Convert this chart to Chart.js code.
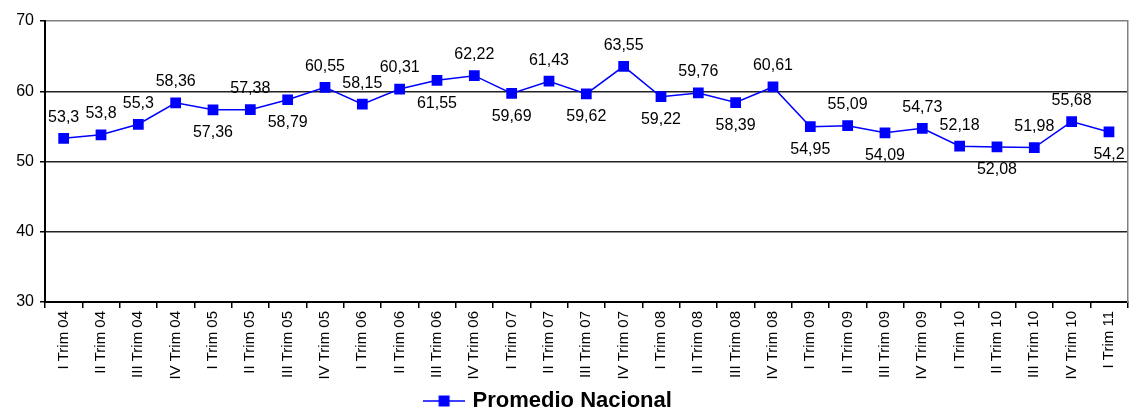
<!DOCTYPE html>
<html>
<head>
<meta charset="utf-8">
<script src="https://cdn.jsdelivr.net/npm/chart.js@4.4.1/dist/chart.umd.min.js"></script>
<style>
  html, body { margin: 0; padding: 0; background: #fff; }
  #wrap { width: 1130px; height: 412px; }
</style>
</head>
<body>
<div id="wrap"><canvas id="chart" width="1130" height="412"></canvas></div>
<script>
// datos
const trimestres = [
  'I Trim 04', 'II Trim 04', 'III Trim 04', 'IV Trim 04',
  'I Trim 05', 'II Trim 05', 'III Trim 05', 'IV Trim 05',
  'I Trim 06', 'II Trim 06', 'III Trim 06', 'IV Trim 06',
  'I Trim 07', 'II Trim 07', 'III Trim 07', 'IV Trim 07',
  'I Trim 08', 'II Trim 08', 'III Trim 08', 'IV Trim 08',
  'I Trim 09', 'II Trim 09', 'III Trim 09', 'IV Trim 09',
  'I Trim 10', 'II Trim 10', 'III Trim 10', 'IV Trim 10',
  'I Trim 11'
];
const promedioNacional = [
  53.3, 53.8, 55.3, 58.36,
  57.36, 57.38, 58.79, 60.55,
  58.15, 60.31, 61.55, 62.22,
  59.69, 61.43, 59.62, 63.55,
  59.22, 59.76, 58.39, 60.61,
  54.95, 55.09, 54.09, 54.73,
  52.18, 52.08, 51.98, 55.68,
  54.2
];
const yTicks = [30, 40, 50, 60, 70];

// lado de cada etiqueta (a = arriba, b = abajo)
const ladoEtiqueta = [
  'a', 'a', 'a', 'a',
  'b', 'a', 'b', 'a',
  'a', 'a', 'b', 'a',
  'b', 'a', 'b', 'a',
  'b', 'a', 'b', 'a',
  'b', 'a', 'b', 'a',
  'a', 'b', 'a', 'a',
  'b'
];

const FONT = 'Arial, "Liberation Sans", sans-serif';

// icono de leyenda: línea con cuadrado
const legendIcon = document.createElement('canvas');
legendIcon.width = 42;
legendIcon.height = 12;
(function () {
  const c = legendIcon.getContext('2d');
  c.strokeStyle = '#0000FF';
  c.lineWidth = 1.5;
  c.beginPath();
  c.moveTo(0, 6);
  c.lineTo(42, 6);
  c.stroke();
  c.fillStyle = '#0000FF';
  c.fillRect(15.5, 0.5, 11, 11);
})();

// etiquetas de datos
const dataLabels = {
  id: 'dataLabels',
  afterDatasetsDraw(chart) {
    const ctx = chart.ctx;
    const meta = chart.getDatasetMeta(0);
    ctx.save();
    ctx.font = '16px ' + FONT;
    ctx.fillStyle = '#000';
    ctx.textAlign = 'center';
    ctx.textBaseline = 'middle';
    meta.data.forEach((pt, i) => {
      const txt = String(promedioNacional[i]).replace('.', ',');
      const w = ctx.measureText(txt).width;
      let x = pt.x;
      if (x + w / 2 > chart.width - 3) x = chart.width - 3 - w / 2;
      const y = ladoEtiqueta[i] === 'b' ? pt.y + 23 : pt.y - 21;
      ctx.fillText(txt, x, y);
    });
    ctx.restore();
  }
};

new Chart(document.getElementById('chart'), {
  type: 'line',
  data: {
    labels: trimestres,
    datasets: [{
      label: 'Promedio Nacional',
      data: promedioNacional,
      borderColor: '#0000FF',
      backgroundColor: '#0000FF',
      borderWidth: 1.5,
      pointStyle: 'rect',
      pointRadius: 7.6,
      pointBorderWidth: 0,
      pointHoverRadius: 7.6,
      tension: 0,
      fill: false
    }]
  },
  options: {
    responsive: false,
    animation: false,
    events: [],
    layout: {
      autoPadding: false,
      padding: { top: 21, right: 1, left: 0, bottom: -10 }
    },
    plugins: {
      legend: {
        position: 'bottom',
        labels: {
          usePointStyle: true,
          pointStyle: legendIcon,
          pointStyleWidth: 35,
          boxHeight: 12,
          padding: 0,
          color: '#000',
          font: { family: FONT, size: 22, weight: 'bold' },
          // espacios al final para correr la leyenda un poco a la izquierda
          generateLabels(chart) {
            const items = Chart.defaults.plugins.legend.labels.generateLabels(chart);
            items.forEach(it => { it.text = it.text + '     '; });
            return items;
          }
        }
      },
      tooltip: { enabled: false }
    },
    scales: {
      x: {
        offset: true,
        grid: {
          offset: true,
          drawOnChartArea: false,
          drawTicks: true,
          tickLength: 6,
          tickColor: '#000',
          lineWidth: 1.5
        },
        border: { color: '#000', width: 2 },
        ticks: {
          autoSkip: false,
          minRotation: 90,
          maxRotation: 90,
          padding: 3,
          color: '#000',
          font: { family: FONT, size: 15 }
        },
        afterFit(scale) { scale.height = 88; }
      },
      y: {
        min: 30,
        max: 70,
        afterBuildTicks(scale) { scale.ticks = yTicks.map(v => ({ value: v })); },
        grid: {
          color: ctx => (ctx.tick && ctx.tick.value === 70 ? '#808080' : '#222'),
          lineWidth: 1.5,
          tickLength: 5,
          tickColor: '#000'
        },
        border: { color: '#000', width: 2 },
        ticks: {
          padding: 6,
          color: '#000',
          font: { family: FONT, size: 16 }
        },
        afterFit(scale) { scale.width = 45; }
      },
      y2: {
        position: 'right',
        min: 30,
        max: 70,
        grid: { drawOnChartArea: false, drawTicks: false },
        border: { color: '#808080', width: 1.5 },
        ticks: { display: false },
        afterFit(scale) { scale.width = 1; }
      }
    }
  },
  plugins: [dataLabels]
});
</script>
</body>
</html>
